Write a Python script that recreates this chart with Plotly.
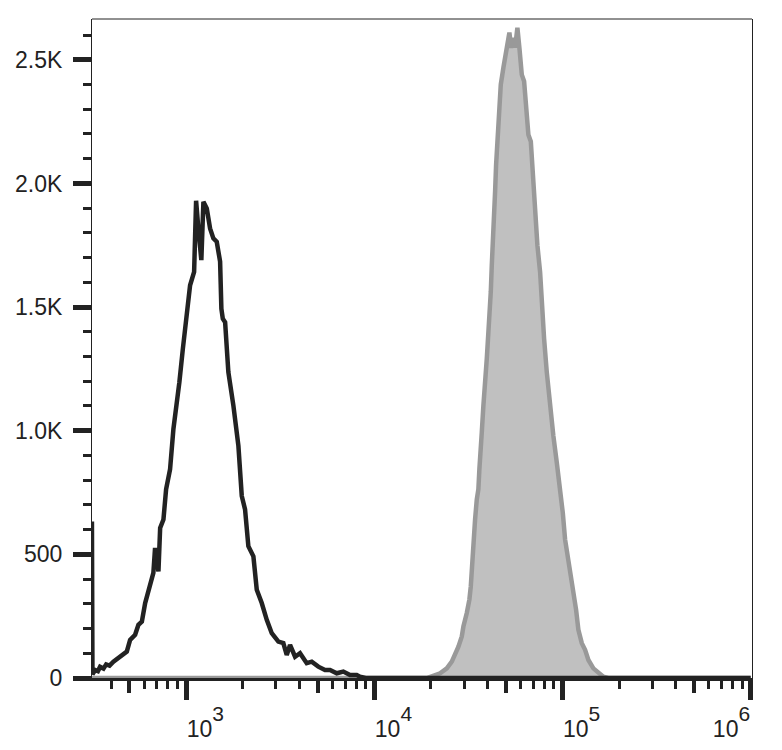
import plotly.graph_objects as go

# ---- data ----
# control (unstained) histogram: fluorescence intensity vs. count
ctrl_x = [316, 318, 329, 340, 349, 364, 376, 392, 411, 456, 484, 504, 536, 558, 582,
          606, 644, 670, 684, 702, 713, 728, 758, 783, 822, 856, 885, 921, 961, 988,
          1009, 1050, 1103, 1130, 1165, 1205, 1236, 1288, 1341, 1396, 1455, 1516, 1540,
          1567, 1612, 1677, 1784, 1896, 1976, 2057, 2142, 2278, 2374, 2523, 2683, 2852,
          3092, 3286, 3426, 3567, 3794, 4031, 4375, 4652, 5042, 5472, 5817, 6316, 6845,
          7430, 8064, 8395, 9000, 1000000]
ctrl_y = [633, 15, 32, 28, 45, 38, 55, 50, 66, 93, 107, 154, 175, 215, 228,
          303, 377, 425, 526, 440, 431, 607, 641, 763, 844, 1006, 1088, 1196, 1331, 1412,
          1466, 1588, 1642, 1930, 1806, 1690, 1926, 1899, 1818, 1778, 1764, 1684, 1493,
          1453, 1439, 1237, 1101, 939, 736, 682, 533, 492, 357, 303, 235, 181,
          147, 141, 93, 134, 86, 100, 60, 66, 46, 32, 32, 19, 26,
          12, 12, 5, 0, 0]

# stained sample histogram
stain_x = [316, 18000, 19010, 22370, 24280, 25810, 26870, 27990, 29170, 29750, 31010,
           32010, 32570, 32970, 33620, 34320, 35040, 35730, 36170, 36800, 37250, 37990,
           38790, 39600, 40390, 41220, 41590, 42100, 42930, 43300, 43840, 44380, 45090,
           45640, 46200, 47000, 48530, 50580, 52230, 53330, 54840, 55990, 57600, 59020,
           60770, 62520, 64070, 65900, 67870, 69540, 71530, 73570, 76030, 77620, 79840,
           82520, 85180, 87730, 89460, 93270, 97100, 100370, 103230, 107470, 110680,
           114260, 118110, 121470, 126640, 131860, 137290, 145950, 155130, 164880,
           175330, 1000000]
stain_y = [0, 0, 0, 19, 39, 66, 93, 127, 168, 208, 263,
           317, 371, 452, 547, 641, 722, 763, 844, 912, 993, 1101,
           1182, 1291, 1399, 1480, 1561, 1669, 1778, 1886, 1967, 2075, 2156,
           2237, 2319, 2400, 2468, 2562, 2610, 2549, 2589, 2549, 2630, 2549,
           2440, 2413, 2319, 2197, 2170, 2021, 1886, 1750, 1642, 1507, 1372,
           1237, 1128, 1047, 979, 871, 776, 668, 560, 479, 398,
           344, 276, 195, 141, 114, 73, 39, 19, 5,
           0, 0]

# ---- axis ticks ----
x_major = [1e3, 1e4, 1e5, 1e6]
x_exponents = ["3", "4", "5", "6"]
x_mid = [5e2, 5e3, 5e4, 5e5]
x_minor = [4e2, 6e2, 7e2, 8e2, 9e2,
           2e3, 3e3, 4e3, 6e3, 7e3, 8e3, 9e3,
           2e4, 3e4, 4e4, 6e4, 7e4, 8e4, 9e4,
           2e5, 3e5, 4e5, 6e5, 7e5, 8e5, 9e5]
y_major = [0, 500, 1000, 1500, 2000, 2500]
y_major_text = ["0", "500", "1.0K", "1.5K", "2.0K", "2.5K"]
y_minor = [100, 200, 300, 400, 600, 700, 800, 900, 1100, 1200, 1300, 1400,
           1600, 1700, 1800, 1900, 2100, 2200, 2300, 2400, 2600]

INK = "#222222"
FONT = "Liberation Sans, Arial, sans-serif"
NB = "\u00a0"

x_labels = []
for i, e in enumerate(x_exponents):
    lab = "10<sup><span style=\"font-size:21px;baseline-shift:6px\">" + e + "</span></sup>"
    if i < len(x_exponents) - 1:
        lab = NB * 6 + lab
    else:
        lab = lab + NB * 6
    x_labels.append(lab)

fig = go.Figure()
fig.add_trace(go.Scatter(
    x=stain_x, y=stain_y, mode="lines", fill="tozeroy",
    fillcolor="#c0c0c0", line=dict(color="#999999", width=4.5),
    showlegend=False, hoverinfo="skip"))
# control trace lives on the overlaid axis (same range) so it is drawn on top
fig.add_trace(go.Scatter(
    x=ctrl_x, y=ctrl_y, mode="lines", xaxis="x2",
    line=dict(color=INK, width=4.5),
    showlegend=False, hoverinfo="skip"))

xrange = [2.5, 6.007]
fig.update_layout(
    width=782, height=750,
    margin=dict(l=92, r=30, t=19, b=72, autoexpand=False),
    paper_bgcolor="white", plot_bgcolor="white",
    font=dict(family=FONT, color=INK, size=23),
    showlegend=False,
    xaxis=dict(
        type="log", range=xrange, showgrid=False, zeroline=False, automargin=False,
        showline=True, linewidth=3, linecolor=INK,
        ticks="outside", tickvals=x_major, ticktext=x_labels,
        ticklen=19, tickwidth=5, tickcolor=INK,
        tickfont=dict(size=23, family=FONT, color=INK),
        ticklabelstandoff=9, ticklabeloverflow="allow",
        minor=dict(ticks="outside", tickvals=x_minor, ticklen=8,
                   tickwidth=3, tickcolor=INK, showgrid=False),
    ),
    xaxis2=dict(
        type="log", range=xrange, overlaying="x", anchor="y", side="bottom",
        showgrid=False, zeroline=False, showline=False, automargin=False,
        ticks="outside", tickvals=x_mid, ticklen=14, tickwidth=4,
        tickcolor=INK, showticklabels=False,
    ),
    yaxis=dict(
        range=[0, 2665], showgrid=False, zeroline=False, automargin=False,
        showline=True, linewidth=1, linecolor=INK, mirror=True,
        ticks="outside", tickvals=y_major, ticktext=y_major_text,
        ticklen=18, tickwidth=5, tickcolor=INK,
        tickfont=dict(size=23, family=FONT, color=INK),
        ticklabelstandoff=6,
        minor=dict(ticks="outside", tickvals=y_minor, ticklen=8,
                   tickwidth=3, tickcolor=INK, showgrid=False),
    ),
    shapes=[dict(type="line", xref="paper", yref="paper", x0=0, x1=1, y0=1, y1=1,
                 line=dict(color=INK, width=1))],
)

fig.write_html("out.html", config={"displayModeBar": False},
               post_script="document.body.style.margin='0';document.body.style.padding='0';")
